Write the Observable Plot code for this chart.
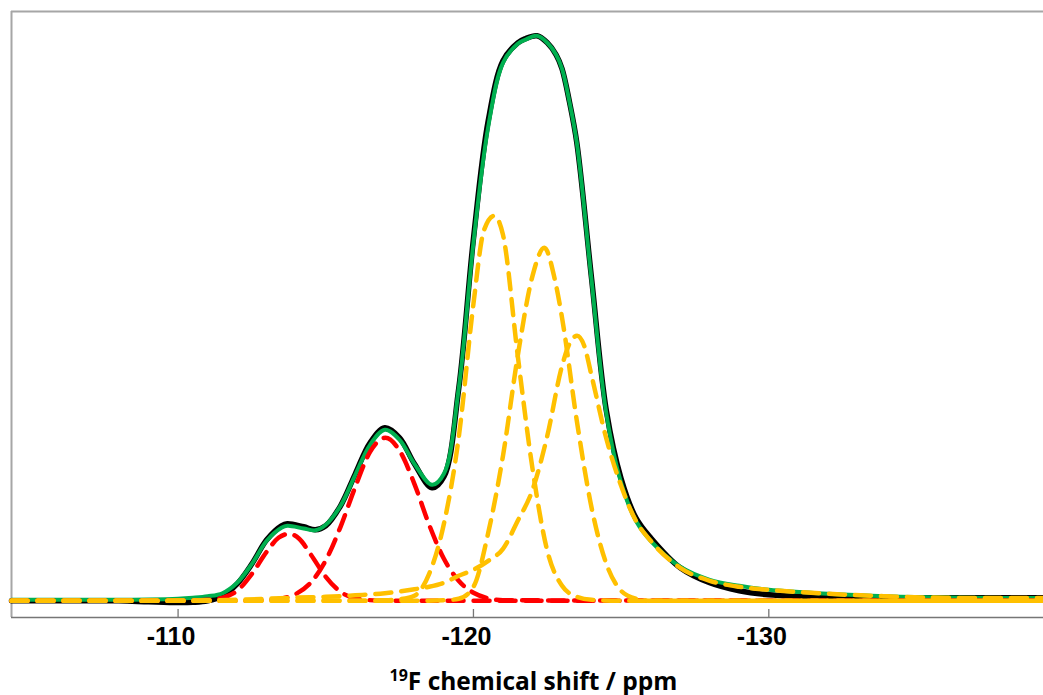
<!DOCTYPE html>
<html><head><meta charset="utf-8">
<script src="https://cdn.jsdelivr.net/npm/d3@7"></script>
<script src="https://cdn.jsdelivr.net/npm/@observablehq/plot@0.6"></script>
<style>
html,body{margin:0;padding:0;background:#fff;overflow:hidden}
#wrap{position:relative;width:1043px;height:695px;background:#fff}
#cap{position:absolute;left:24px;width:1019px;top:666px;text-align:center;font-family:"Open Sans";font-weight:700;font-size:24.5px;line-height:30px;color:#000;white-space:nowrap}
#cap .sup{font-size:16px;position:relative;top:-9px}
</style></head><body>
<div id="wrap"><div id="chart"></div><div id="cap"><span class="sup">19</span>F chemical shift / ppm</div></div>
<script>
// x: 19F chemical shift (ppm), y: intensity (a.u.)
const xDomain = [-104.36, -139.3];
const yDomain = [-16.7, 589.3];
const xTicks = [-110, -120, -130];

// experimental spectrum (black) and fitted sum (green), same shift grid
const specPpm = [-104.36, -106, -108, -109, -110, -110.5, -111, -111.5, -112, -112.5, -113, -113.5, -113.7, -114.25, -114.65, -115, -115.5, -116, -116.5, -117, -117.5, -118, -118.6, -119, -119.5, -120, -120.5, -121, -121.5, -121.75, -122.15, -122.5, -122.8, -123, -123.25, -123.5, -124, -124.5, -125, -125.5, -126, -127, -128, -129, -130, -132, -134, -136, -138, -139.3];
const fitInt = [1, 1, 1, 1.2, 2, 3, 4.5, 7.5, 18, 37, 60, 73, 75, 72.3, 70.5, 76, 95, 126, 156, 171, 161, 137, 116, 127, 212, 358, 474, 538, 557, 561, 565, 558, 546, 532, 499, 458, 320, 187, 118, 80, 60, 34, 21, 15, 11, 7, 4.5, 3.2, 2.8, 2.7];
const expInt = [0, 0, 0, -1, -1.8, -1.5, 0, 5, 17, 37, 61, 75, 77, 74, 71, 75, 95, 127, 158, 173, 163, 137, 113, 124, 212, 362, 480, 540, 558, 562, 565, 558, 546, 532, 499, 458, 322, 190, 122, 83, 63, 33, 18, 10, 6, 3.5, 3, 3, 3, 3];

// red components
const red1Ppm = [-104.36, -110, -111, -111.5, -112, -112.5, -113, -113.4, -113.77, -114.1, -114.5, -115, -115.5, -116, -117, -120, -139.3];
const red1Int = [0, 0, 1, 3, 10, 27, 49, 63, 67, 62, 46, 24, 9, 2.5, 0, 0, 0];
const red2Ppm = [-104.36, -112, -113, -113.5, -114, -114.5, -115, -115.5, -116, -116.5, -117.02, -117.5, -118, -118.5, -119, -119.5, -120, -120.5, -121, -139.3];
const red2Int = [0, 0, 0.7, 2.3, 7, 18.5, 40.5, 74, 114, 149, 163, 150, 117, 76, 42, 20, 8, 2.5, 0.5, 0];

// orange components
const or1Ppm = [-104.36, -116, -117, -117.5, -118, -118.5, -119, -119.5, -120, -120.35, -120.7, -121, -121.5, -122, -122.5, -123, -123.5, -124, -125, -139.3];
const or1Int = [0, 0, 0.5, 1.5, 5, 27, 77, 163, 297, 370, 385, 366, 245, 132, 50, 15, 4, 1, 0, 0];
const or2Ppm = [-104.36, -118, -119, -119.5, -120, -120.5, -121, -121.5, -122, -122.4, -122.75, -123, -123.5, -124, -124.5, -125, -125.5, -126, -139.3];
const or2Int = [0, 0, 0.5, 2, 14, 68, 145, 245, 325, 353, 322, 283, 180, 93, 37, 10, 2, 0, 0];
const or3Ppm = [-104.36, -108, -110, -111, -112, -113, -114, -115, -116, -117, -118, -118.5, -119, -119.5, -120, -120.5, -121, -121.5, -122, -122.5, -123, -123.25, -123.51, -123.75, -124, -124.5, -125, -125.5, -126, -127, -128, -129, -130, -132, -134, -136, -138, -139.3];
const or3Int = [0, 0, 0.2, 0.5, 1, 2, 3.2, 4, 5.5, 7.5, 11.5, 14, 18, 25, 31, 40, 52, 80, 111, 165, 235, 257, 265, 255, 225, 162, 115, 80, 60, 33, 20, 14, 11, 7, 4.5, 3, 2.7, 2.7];

const rows = (p, v) => p.map((x, i) => ({ppm: x, v: v[i]}));
const RED = "#ff0000", ORANGE = "#ffc000", GREEN = "#00b050";
const dash = "16,10";

const chart = Plot.plot({
  width: 1043, height: 660,
  marginLeft: 11, marginRight: 0, marginTop: 11, marginBottom: 43,
  x: {domain: xDomain, axis: null},
  y: {domain: yDomain, axis: null},
  style: {background: "#fff", overflow: "visible"},
  marks: [
    Plot.ruleX([xDomain[0]], {stroke: "#a6a6a6", strokeWidth: 2}),
    Plot.ruleY([yDomain[1]], {stroke: "#a6a6a6", strokeWidth: 2}),
    Plot.ruleY([yDomain[0]], {stroke: "#767676", strokeWidth: 1.3}),
    Plot.tickX(xTicks, {x: d => d, stroke: "#767676", strokeWidth: 1.3, insetTop: 598}),
    Plot.axisX({ticks: xTicks, tickSize: 0, tickPadding: 10, tickFormat: d => String(d),
      fontSize: 25, fontWeight: "bold", fontFamily: "Liberation Sans, Arial, sans-serif",
      fill: "#000", dx: -7, label: null}),
    Plot.line(rows(specPpm, expInt), {x: "ppm", y: "v", stroke: "#000", strokeWidth: 5.5, curve: "catmull-rom"}),
    Plot.line(rows(specPpm, fitInt), {x: "ppm", y: "v", stroke: GREEN, strokeWidth: 4, curve: "catmull-rom"}),
    Plot.line(rows(red1Ppm, red1Int), {x: "ppm", y: "v", stroke: RED, strokeWidth: 4.5, strokeDasharray: dash, curve: "monotone-x"}),
    Plot.line(rows(red2Ppm, red2Int), {x: "ppm", y: "v", stroke: RED, strokeWidth: 4.5, strokeDasharray: dash, curve: "monotone-x"}),
    Plot.line(rows(or1Ppm, or1Int), {x: "ppm", y: "v", stroke: ORANGE, strokeWidth: 4.5, strokeDasharray: dash, curve: "monotone-x"}),
    Plot.line(rows(or2Ppm, or2Int), {x: "ppm", y: "v", stroke: ORANGE, strokeWidth: 4.5, strokeDasharray: dash, curve: "monotone-x"}),
    Plot.line(rows(or3Ppm, or3Int), {x: "ppm", y: "v", stroke: ORANGE, strokeWidth: 4.5, strokeDasharray: dash, curve: "monotone-x"})
  ]
});
document.getElementById("chart").appendChild(chart);
</script>
</body></html>
